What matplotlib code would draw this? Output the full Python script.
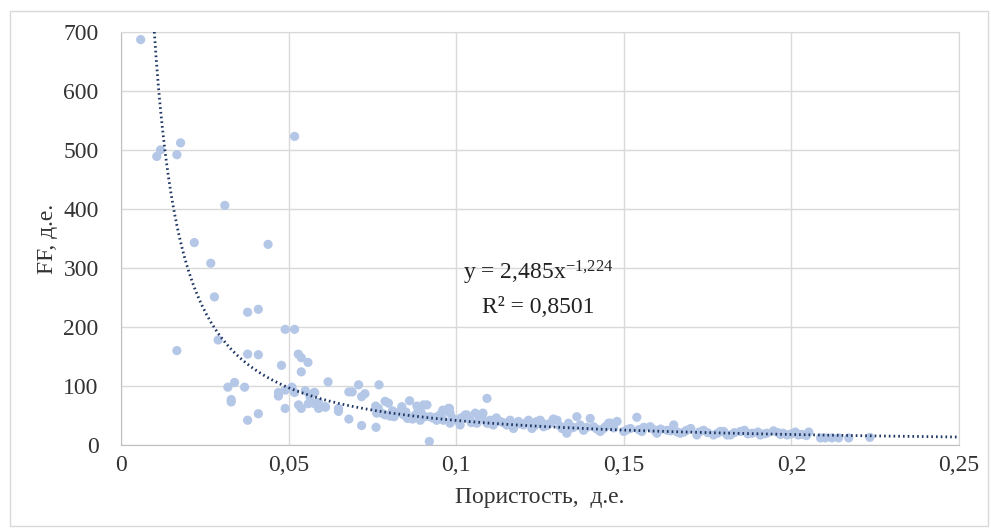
import matplotlib
matplotlib.use("Agg")
import matplotlib.pyplot as plt
import numpy as np
from matplotlib.patches import Rectangle

# porosity (fraction) and formation factor
porosity = [
    0.0059, 0.0107, 0.0118, 0.0167, 0.0178, 0.0310, 0.0518,
    0.0219, 0.0439, 0.0268, 0.0279, 0.0378, 0.0410, 0.0490, 0.0518,
    0.0290, 0.0167, 0.0378, 0.0410, 0.0529, 0.0538, 0.0558, 0.0479,
    0.0538, 0.0618, 0.0319, 0.0339, 0.0369, 0.0329, 0.0329, 0.0470,
    0.0470, 0.0490, 0.0510, 0.0518, 0.0550, 0.0578, 0.0530, 0.0538,
    0.0559, 0.0578, 0.0590, 0.0590, 0.0610, 0.0490, 0.0410, 0.0378,
    0.0576, 0.0564, 0.0584, 0.0610, 0.0590, 0.0649, 0.0649, 0.0680,
    0.0690, 0.0680, 0.0718, 0.0728, 0.0718, 0.0709, 0.0770, 0.0761,
    0.0761, 0.0788, 0.0798,
    0.0760, 0.0768, 0.0763, 0.0778, 0.0788, 0.0803, 0.0823, 0.0838,
    0.0843, 0.0861, 0.0873, 0.0883, 0.0903, 0.0913, 0.0893, 0.0907,
    0.0922, 0.0920, 0.0942, 0.0957, 0.0962, 0.0977, 0.0982, 0.0982,
    0.1002, 0.1012, 0.1032, 0.1042, 0.1057, 0.1062, 0.1077, 0.1092,
    0.1092, 0.0960, 0.0980, 0.1027, 0.0810, 0.0850, 0.0870, 0.0940,
    0.1080, 0.1101, 0.1111, 0.1131, 0.1151, 0.1161, 0.1171, 0.1186,
    0.1201, 0.1216, 0.1226, 0.1241, 0.1251, 0.1261, 0.1281, 0.1301,
    0.1316, 0.1335, 0.1330, 0.1360, 0.1370, 0.1380, 0.1400, 0.1410,
    0.1430, 0.1445, 0.1455, 0.1120, 0.1190, 0.1270, 0.1290, 0.1350,
    0.1440, 0.1460, 0.1480, 0.1500, 0.1520, 0.1539, 0.1554, 0.1579,
    0.1599, 0.1629, 0.1649, 0.1669, 0.1688, 0.1718, 0.1738, 0.1768,
    0.1788, 0.1808, 0.1560, 0.1610, 0.1660, 0.1700, 0.1750,
    0.1798, 0.1818, 0.1848, 0.1883, 0.1907, 0.1927, 0.1947, 0.1967,
    0.1987, 0.2012, 0.2032, 0.2052, 0.2087, 0.2101, 0.2121, 0.2141,
    0.2171, 0.2234, 0.1860, 0.1900, 0.1960, 0.2000,
    # extra points inside the dense band
    0.0815, 0.0835, 0.0855, 0.0880, 0.0895, 0.0930, 0.0950, 0.0990,
    0.1015, 0.1045, 0.1070, 0.1100, 0.1140, 0.1175, 0.1210, 0.1235,
    0.1265, 0.1310, 0.1345, 0.1390, 0.1420, 0.1470, 0.1510, 0.1545,
    0.1590, 0.1640, 0.1680, 0.1725, 0.1780, 0.1830, 0.1870, 0.1920,
    0.1975, 0.2020, 0.2045,
]
ff = [
    687, 489, 500, 492, 512, 406, 523,
    343, 340, 308, 251, 225, 230, 196, 196,
    178, 160, 154, 153, 154, 148, 140, 135,
    124, 107, 98, 106, 98, 77, 73, 89,
    83, 93, 98, 89, 92, 89, 68, 62,
    70, 70, 72, 62, 64, 62, 53, 42,
    89, 82, 71, 65, 63, 62, 57, 90,
    90, 44, 33, 87, 82, 102, 102, 30,
    62, 74, 71,
    66, 62, 54, 54, 51, 49, 54, 65,
    51, 75, 48, 66, 68, 68, 42, 48,
    48, 6, 42, 54, 42, 62, 54, 37,
    42, 34, 51, 42, 54, 37, 48, 37,
    79, 59, 62, 51, 58, 56, 44, 47,
    54, 42, 34, 40, 34, 42, 28, 40,
    34, 42, 28, 40, 42, 31, 37, 42,
    28, 37, 20, 48, 34, 25, 45, 31,
    23, 31, 37, 46, 36, 33, 44, 30,
    28, 37, 40, 23, 28, 47, 23, 31,
    20, 25, 34, 20, 25, 17, 25, 17,
    23, 17, 30, 27, 22, 28, 21,
    23, 17, 23, 20, 17, 20, 24, 18,
    17, 22, 18, 22, 12, 12, 12, 12,
    12, 13, 25, 22, 21, 19,
    # extra points inside the dense band
    48, 58, 45, 52, 56, 46, 50, 45,
    46, 38, 44, 37, 38, 36, 38, 33,
    35, 32, 29, 30, 27, 29, 26, 26,
    26, 24, 22, 22, 20, 21, 19, 19,
    20, 17, 16,
]

# power trendline shown on the chart
TREND_A = 2.485
TREND_B = -1.224
R2 = "0,8501"

x_ticks = [0, 0.05, 0.1, 0.15, 0.2, 0.25]
x_tick_labels = ["0", "0,05", "0,1", "0,15", "0,2", "0,25"]
y_ticks = [0, 100, 200, 300, 400, 500, 600, 700]

plt.rcParams["font.family"] = ["Liberation Serif", "DejaVu Serif"]
plt.rcParams["mathtext.default"] = "regular"

FS = 17

fig = plt.figure(figsize=(9.91, 5.32), dpi=100)
ax = fig.add_axes([0.122, 0.1635, 0.8457, 0.7765])

fig.patches.append(Rectangle((0.0105, 0.012), 0.9865, 0.968, transform=fig.transFigure,
                             fill=False, edgecolor="#D9D9D9", linewidth=1))

ax.scatter(porosity, ff, s=44, color="#B4C7E7", edgecolors="none", zorder=3)

x_start = (700 / TREND_A) ** (1 / TREND_B)
trend_x = np.linspace(x_start, 0.25, 400)
trend_y = TREND_A * trend_x ** TREND_B
ax.plot(trend_x, trend_y, color="#203864", linewidth=2.0, linestyle=(0, (0.6, 1.1)),
        dash_capstyle="butt", zorder=4)

ax.set_xlim(0, 0.25)
ax.set_ylim(0, 700)
ax.set_xticks(x_ticks)
ax.set_xticklabels(x_tick_labels)
ax.set_yticks(y_ticks)
ax.tick_params(axis="both", length=0, labelsize=FS, colors="#333333")
ax.tick_params(axis="x", pad=7)
ax.tick_params(axis="y", pad=16)

ax.grid(True, color="#D9D9D9", linewidth=1)
ax.set_axisbelow(True)
for side in ["top", "right"]:
    ax.spines[side].set_color("#D9D9D9")
for side in ["left", "bottom"]:
    ax.spines[side].set_color("#BFBFBF")

ax.set_xlabel("Пористость,  д.е.", fontsize=FS, color="#333333", labelpad=8)
ax.set_ylabel("FF, д.е.", fontsize=FS, color="#333333", labelpad=4)

ax.text(0.1245, 292, "y = 2,485x$^{-1{,}224}$", fontsize=FS, ha="center", va="center",
        color="#222222")
ax.text(0.1245, 233, f"R² = {R2}", fontsize=FS, ha="center", va="center",
        color="#222222")

fig.savefig("out.png", dpi=100)
